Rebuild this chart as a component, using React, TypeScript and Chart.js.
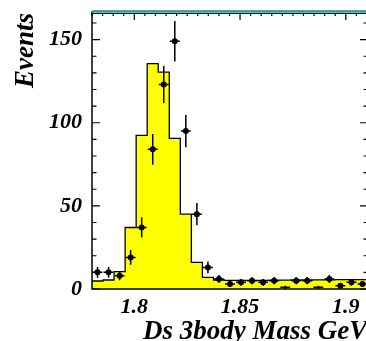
import React, { useEffect, useRef } from "react";
import { Chart, registerables } from "chart.js";

Chart.register(...registerables);

// Bin low edges (plus the final high edge) of the mass histogram
const binEdges = [
  1.78, 1.78522, 1.79044, 1.79566, 1.80088, 1.8061, 1.81132, 1.81654, 1.82176,
  1.82698, 1.8322, 1.83742, 1.84264, 1.84786, 1.85308, 1.8583, 1.86352,
  1.86874, 1.87396, 1.87918, 1.8844, 1.88962, 1.89484, 1.90006, 1.90528, 1.9105,
];

// Filled (yellow) histogram contents per bin
const histCounts = [
  4.8, 4.8, 5.4, 10.4, 37, 92.4, 135.6, 130.4, 90.6, 45, 16, 7, 5.4, 5.2, 5.2,
  5.2, 5.2, 5.3, 5.3, 5.4, 5.4, 5.5, 5.5, 5.6, 5.6,
];

// Data points (events per bin) and their vertical errors
const dataCounts = [
  10, 10, 8, 19, 37, 84, 123, 149, 95, 45, 13, 6, 3, 4, 5, 4, 5, 1, 5, 5, 1, 6,
  2, 4, 3,
];
const dataErrors = [
  3.2, 3.2, 2.8, 4.4, 6.1, 9.2, 11.1, 12.2, 9.7, 6.7, 3.6, 2.4, 1.7, 2, 2.2, 2,
  2.2, 1, 2.2, 2.2, 1, 2.4, 1.4, 2, 1.7,
];

const xTickValues = [1.8, 1.85, 1.9];
const yTickValues = [0, 50, 100, 150];
const xTitle = "Ds 3body Mass GeV";
const yTitle = "Events";

const X_MIN = 1.78;
const X_MAX = 1.9105;
const Y_MIN = 0;
const Y_MAX = 166;

const CANVAS_W = 380;
const CANVAS_H = 341;

const FONT_FAMILY = "'Liberation Serif', 'Times New Roman', serif";

const decorPlugin = {
  id: "decor",
  afterDatasetDraw(chart: any, args: any) {
    if (args.index !== 0) return;
    const ctx = chart.ctx;
    const xs = chart.scales.x;
    const ys = chart.scales.y;
    ctx.save();
    ctx.strokeStyle = "#000";
    ctx.lineWidth = 1.5;
    dataCounts.forEach((v, i) => {
      const lo = binEdges[i];
      const hi = binEdges[i + 1];
      const w = hi - lo;
      const cx = xs.getPixelForValue((lo + hi) / 2);
      const y = ys.getPixelForValue(v);
      const xl = xs.getPixelForValue(lo + w * 0.05);
      const xr = xs.getPixelForValue(hi - w * 0.05);
      const yt = ys.getPixelForValue(v + dataErrors[i]);
      const yb = ys.getPixelForValue(Math.max(0, v - dataErrors[i]));
      ctx.beginPath();
      ctx.moveTo(xl, y);
      ctx.lineTo(xr, y);
      ctx.moveTo(cx, yt);
      ctx.lineTo(cx, yb);
      ctx.stroke();
    });
    ctx.restore();
  },
  afterDraw(chart: any) {
    const ctx = chart.ctx;
    const xs = chart.scales.x;
    const ys = chart.scales.y;
    const a = chart.chartArea;
    ctx.save();
    // frame
    ctx.strokeStyle = "#000";
    ctx.lineWidth = 1.5;
    ctx.beginPath();
    ctx.moveTo(a.left, a.top);
    ctx.lineTo(a.left, a.bottom);
    ctx.lineTo(a.right, a.bottom);
    ctx.lineTo(a.right, a.top);
    ctx.stroke();
    // y ticks (left & right, inward)
    ctx.lineWidth = 1.2;
    for (let v = 0; v <= Y_MAX; v += 10) {
      const y = ys.getPixelForValue(v);
      const len = v % 50 === 0 ? 8 : 4.5;
      ctx.beginPath();
      ctx.moveTo(a.left, y);
      ctx.lineTo(a.left + len, y);
      ctx.moveTo(a.right, y);
      ctx.lineTo(a.right - len, y);
      ctx.stroke();
    }
    // x ticks on top axis (inward)
    for (let k = 356; k * 0.005 <= X_MAX + 1e-9; k++) {
      const x = xs.getPixelForValue(k * 0.005);
      const len = k % 10 === 0 ? 7 : 3;
      ctx.beginPath();
      ctx.moveTo(x, a.top);
      ctx.lineTo(x, a.top + len);
      ctx.stroke();
    }
    // cyan line along the top
    ctx.lineCap = "round";
    ctx.strokeStyle = "#1a1a1a";
    ctx.lineWidth = 3.6;
    ctx.beginPath();
    ctx.moveTo(a.left + 1, a.top - 0.8);
    ctx.lineTo(a.right + 20, a.top - 0.8);
    ctx.stroke();
    ctx.strokeStyle = "#22d0d0";
    ctx.lineWidth = 1.8;
    ctx.beginPath();
    ctx.moveTo(a.left + 1, a.top - 0.8);
    ctx.lineTo(a.right + 20, a.top - 0.8);
    ctx.stroke();
    // axis titles
    ctx.fillStyle = "#000";
    ctx.font = `italic bold 27px ${FONT_FAMILY}`;
    ctx.textAlign = "left";
    ctx.textBaseline = "alphabetic";
    ctx.fillText(xTitle, a.left + 51, 339);
    ctx.translate(33, 13);
    ctx.rotate(-Math.PI / 2);
    ctx.textAlign = "right";
    ctx.fillText(yTitle, 0, 0);
    ctx.restore();
  },
};

export default function App() {
  const ref = useRef<HTMLCanvasElement>(null);
  useEffect(() => {
    const canvas = ref.current;
    if (!canvas) return;
    const histPoints = binEdges.map((e, i) => ({
      x: e,
      y: histCounts[Math.min(i, histCounts.length - 1)],
    }));
    const pts = dataCounts.map((v, i) => ({
      x: (binEdges[i] + binEdges[i + 1]) / 2,
      y: v,
    }));
    const tickFont = {
      family: FONT_FAMILY,
      size: 22,
      style: "italic" as const,
      weight: "bold" as const,
    };
    const chart = new Chart(canvas, {
      type: "line",
      data: {
        datasets: [
          {
            type: "scatter",
            data: pts,
            pointRadius: (c: any) => (dataCounts[c.dataIndex] > 1.5 ? 3 : 0),
            pointBackgroundColor: "#000",
            pointBorderWidth: 0,
            order: 1,
          } as any,
          {
            type: "line",
            data: histPoints,
            stepped: "after",
            fill: "origin",
            backgroundColor: "#ffff00",
            borderColor: "#000",
            borderWidth: 1.3,
            pointRadius: 0,
            order: 2,
          } as any,
        ],
      },
      options: {
        responsive: false,
        animation: false,
        devicePixelRatio: 1,
        layout: { padding: { top: 13, right: CANVAS_W - 368, left: 0, bottom: 0 } },
        plugins: { legend: { display: false }, tooltip: { enabled: false } },
        scales: {
          x: {
            type: "linear",
            min: X_MIN,
            max: X_MAX,
            grid: { display: false, drawTicks: false },
            border: { display: false },
            afterBuildTicks: (s: any) => {
              s.ticks = xTickValues.map((v) => ({ value: v }));
            },
            afterFit: (s: any) => {
              s.height = 52;
              s.paddingLeft = 0;
              s.paddingRight = 0;
            },
            ticks: {
              padding: 5,
              color: "#000",
              font: tickFont,
              maxRotation: 0,
              autoSkip: false,
              callback: (v: any) => String(v),
            },
          },
          y: {
            type: "linear",
            min: Y_MIN,
            max: Y_MAX,
            grid: { display: false, drawTicks: false },
            border: { display: false },
            afterBuildTicks: (s: any) => {
              s.ticks = yTickValues.map((v) => ({ value: v }));
            },
            afterFit: (s: any) => {
              s.width = 92;
              s.paddingTop = 0;
              s.paddingBottom = 0;
            },
            ticks: {
              padding: 10,
              color: "#000",
              font: tickFont,
              autoSkip: false,
              callback: (v: any) => String(v),
            },
          },
        },
      } as any,
      plugins: [decorPlugin],
    });
    return () => chart.destroy();
  }, []);
  return (
    <div
      style={{
        position: "fixed",
        left: 0,
        top: 0,
        width: 366,
        height: 341,
        overflow: "hidden",
      }}
    >
      <canvas
        ref={ref}
        width={CANVAS_W}
        height={CANVAS_H}
        style={{ width: CANVAS_W, height: CANVAS_H, display: "block" }}
      />
    </div>
  );
}
